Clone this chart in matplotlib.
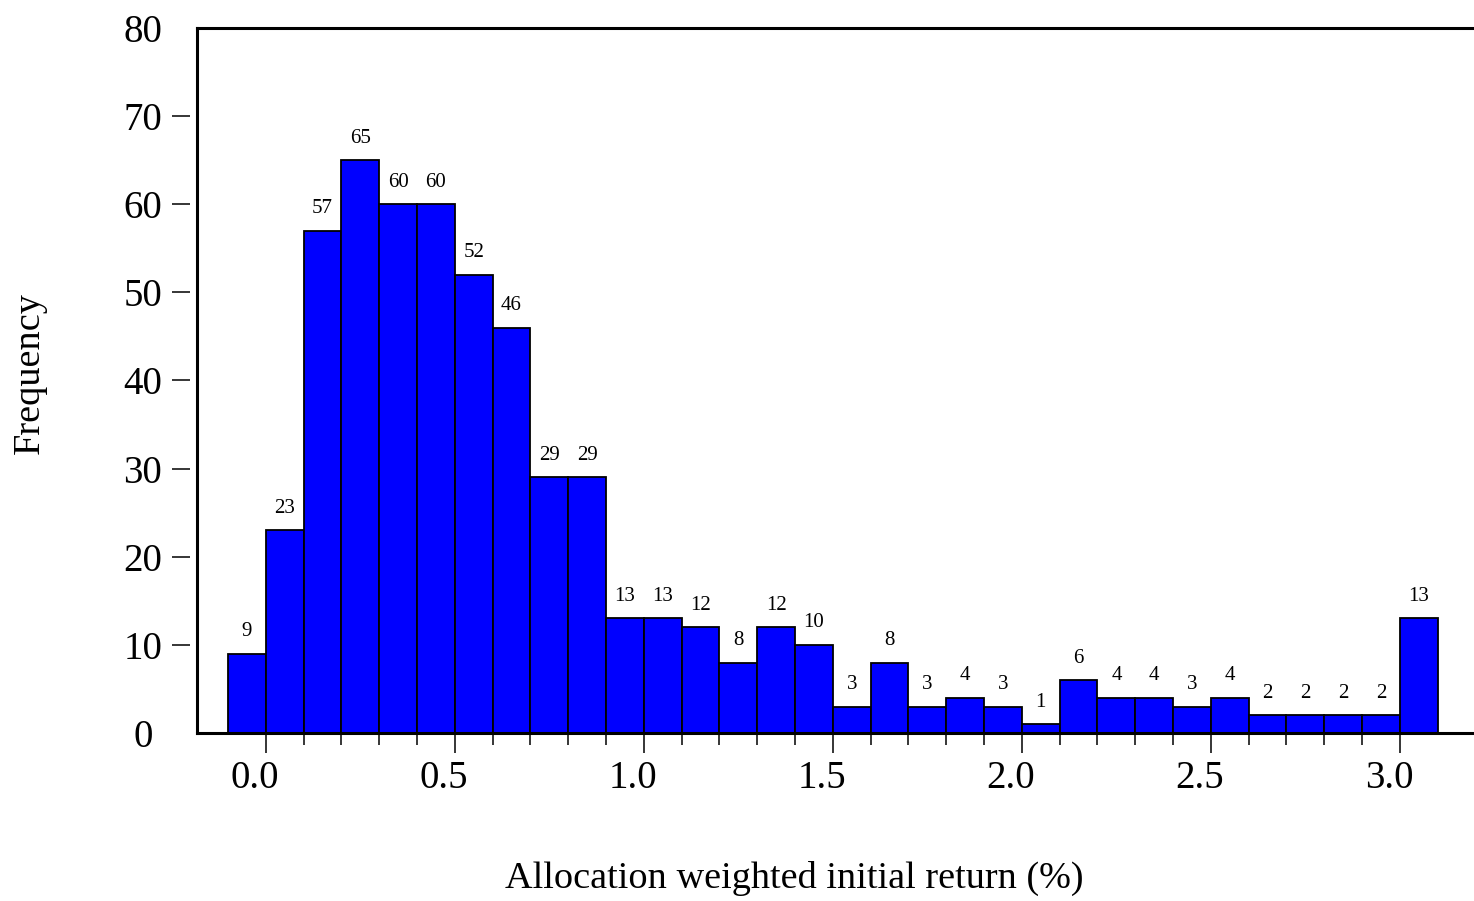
import numpy as np
import matplotlib.pyplot as plt
import matplotlib.transforms as mtransforms

plt.rcParams['font.family'] = ['Liberation Serif', 'DejaVu Serif']

# histogram bins: 0.1 wide, from -0.1 to 3.1
bin_left = np.round(np.arange(-0.1, 3.05, 0.1), 2)
counts = [9, 23, 57, 65, 60, 60, 52, 46, 29, 29,
          13, 13, 12, 8, 12, 10, 3, 8, 3, 4,
          3, 1, 6, 4, 4, 3, 4, 2, 2, 2, 2, 13]
bin_width = 0.1

y_major = [10, 20, 30, 40, 50, 60, 70]
y_ends = [0, 80]
x_major = [0.0, 0.5, 1.0, 1.5, 2.0, 2.5, 3.0]
x_minor = [0.1, 0.2, 0.3, 0.4, 0.6, 0.7, 0.8, 0.9, 1.1, 1.2, 1.3, 1.4,
           1.6, 1.7, 1.8, 1.9, 2.1, 2.2, 2.3, 2.4, 2.6, 2.7, 2.8, 2.9]

fig = plt.figure(figsize=(14.74, 9.01), dpi=100)
ax = fig.add_axes([197 / 1474, 1 - 733 / 901, 1 - 197 / 1474, (733 - 28) / 901])

ax.bar(bin_left, counts, width=bin_width, align='edge',
       color='#0000ff', edgecolor='black', linewidth=1.3, zorder=2)
for x, c in zip(bin_left, counts):
    ax.annotate(str(c), (x + bin_width / 2, c), xytext=(0, 9),
                textcoords='offset points', ha='center', va='bottom',
                fontsize=15)

ax.set_xlim(-0.182, 3.196)
ax.set_ylim(0, 80)

# frame: thick bottom and top lines, left line drawn separately so the
# y ticks can sit a little away from it
for s in ('bottom', 'top'):
    ax.spines[s].set_linewidth(2.2)
ax.spines['right'].set_visible(False)
ax.spines['left'].set_position(('outward', 5))
ax.spines['left'].set_visible(False)
ax.plot([0, 0], [0, 1], transform=ax.transAxes, color='black',
        lw=2.2, clip_on=False, solid_capstyle='projecting', zorder=3)

ax.set_xticks(x_major)
ax.set_xticklabels(['%.1f' % v for v in x_major])
ax.set_xticks(x_minor, minor=True)
ax.tick_params(axis='x', which='major', direction='out', length=14.5,
               width=1.1, labelsize=28, pad=5)
ax.tick_params(axis='x', which='minor', direction='out', length=8.5,
               width=1.1)
# x labels sit a bit left of their ticks
shift = mtransforms.ScaledTranslation(-11 / 100, 0, fig.dpi_scale_trans)
for lab in ax.get_xticklabels():
    lab.set_transform(lab.get_transform() + shift)

ax.set_yticks(y_major)
ax.set_yticklabels([str(v) for v in y_major], ha='center')
ax.set_yticks(y_ends, minor=True)
ax.set_yticklabels([str(v) for v in y_ends], minor=True, ha='center')
ax.tick_params(axis='y', which='major', direction='out', length=13,
               width=1.1, labelsize=28, pad=21)
ax.tick_params(axis='y', which='minor', length=0, labelsize=28, pad=34)

fig.text(794 / 1474, 1 - 878 / 901, 'Allocation weighted initial return (%)',
         ha='center', va='center', fontsize=27.5)
fig.text(30 / 1474, 1 - 373 / 901, 'Frequency', rotation=90,
         ha='center', va='center', fontsize=27.5)

fig.savefig('out.png', dpi=100)
